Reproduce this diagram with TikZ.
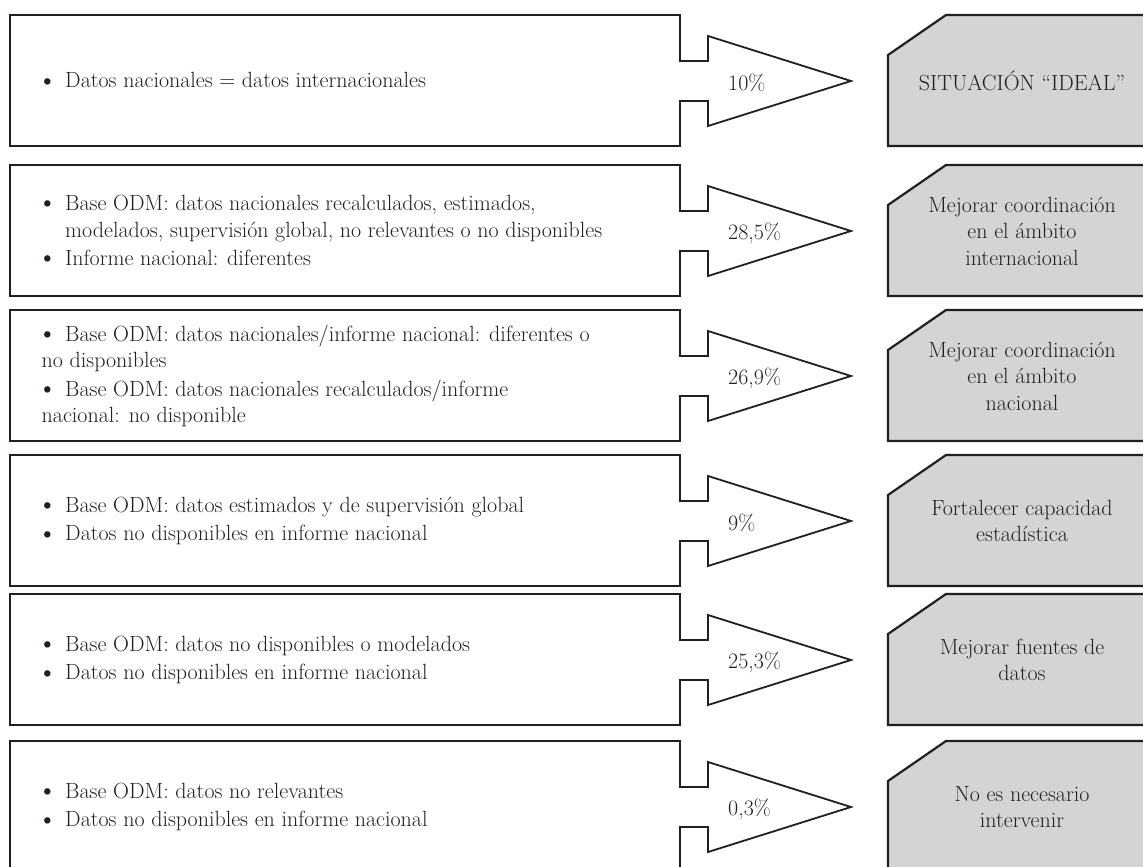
\documentclass[tikz,border=0pt]{standalone}
\definecolor{ink}{HTML}{231F20}
\definecolor{goalgray}{HTML}{D3D4D6}
\newcommand\itm{\makebox[28pt][l]{\raisebox{-0.06em}{\scalebox{1.3}{\textbullet}}}}
\newcommand\hind{\hspace*{28pt}}
\newcommand\flush{\hspace*{4.5pt}}
% one row: #1 top edge, #2 name, #3 conditions, #4 share, #5 action
\newcommand\flowrow[5]{%
\begin{scope}[shift={(0,#1)}]
  \draw[outline] (10,0) -- (680,0) -- (680,46) -- (708,46) -- (708,21)
        -- (851,66) -- (708,111) -- (708,86) -- (680,86) -- (680,131)
        -- (10,131) -- cycle;
  \node[lefttext] (#2L) at (37,66) {#3};
  \node[pct] (#2P) at (728,68) {#4};
  \draw[goal] (888,40) -- (946,0) -- (1165,0) -- (1165,131) -- (888,131) -- cycle;
  \node[goaltext] (#2R) at (1022,66) {#5};
\end{scope}}
\begin{document}
\begin{tikzpicture}[x=1pt,y=-1pt,
  outline/.style={draw=ink,line width=1.8pt,fill=white},
  goal/.style={draw=ink,line width=2.2pt,fill=goalgray},
  basefont/.style={font=\fontsize{22}{26.5}\selectfont,text=ink,inner sep=0pt},
  lefttext/.style={basefont,anchor=west,align=left},
  pct/.style={basefont,anchor=west},
  goaltext/.style={basefont,align=center}]
\clip (0,0) rectangle (1143,867);
\fill[white] (0,0) rectangle (1143,867);

\flowrow{15}{r1}{\itm Datos nacionales = datos internacionales}{10\%}{SITUACIÓN “IDEAL”}

\flowrow{165}{r2}{\itm Base ODM: datos nacionales recalculados, estimados,\\
  \hind modelados, supervisión global, no relevantes o no disponibles\\[2pt]
  \itm Informe nacional: diferentes}{28,5\%}{Mejorar coordinación\\en el ámbito\\internacional}

\flowrow{310}{r3}{\itm Base ODM: datos nacionales/informe nacional: diferentes o\\
  \flush no disponibles\\[2pt]
  \itm Base ODM: datos nacionales recalculados/informe\\
  \flush nacional: no disponible}{26,9\%}{Mejorar coordinación\\en el ámbito\\nacional}

\flowrow{455}{r4}{\itm Base ODM: datos estimados y de supervisión global\\[2pt]
  \itm Datos no disponibles en informe nacional}{9\%}{Fortalecer capacidad\\estadística}

\flowrow{594}{r5}{\itm Base ODM: datos no disponibles o modelados\\[2pt]
  \itm Datos no disponibles en informe nacional}{25,3\%}{Mejorar fuentes de\\datos}

\flowrow{741}{r6}{\itm Base ODM: datos no relevantes\\[2pt]
  \itm Datos no disponibles en informe nacional}{0,3\%}{No es necesario\\intervenir}
\end{tikzpicture}
\end{document}
